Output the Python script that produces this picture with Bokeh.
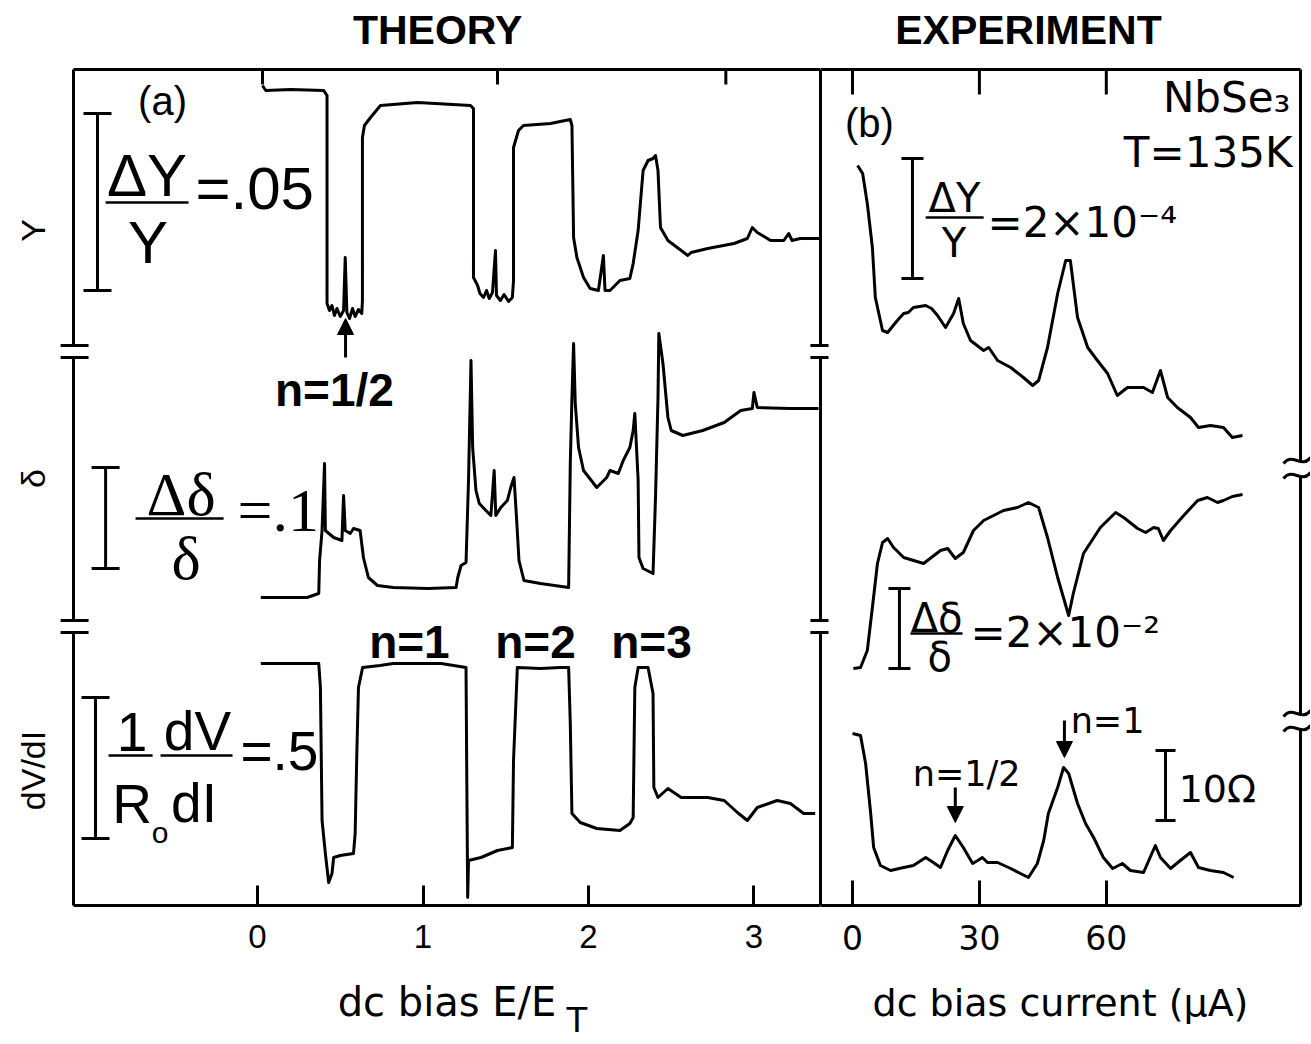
from bokeh.plotting import figure
from bokeh.layouts import row
from bokeh.models import (Range1d, FixedTicker, ColumnDataSource,
                          Whisker, TeeHead, Arrow, NormalHead)
from bokeh.core.properties import value
from bokeh.embed import file_html
from bokeh.resources import INLINE

# ---------------- data ----------------
# (a) THEORY, x = dc bias E/E_T, y = signal (arb. units, traces offset)
theory_Y_E = [0.03, 0.05, 0.20, 0.40, 0.42, 0.42, 0.435, 0.45, 0.465, 0.48, 0.50, 0.52, 0.53, 0.54, 0.556, 0.574,
              0.59, 0.61, 0.63, 0.634, 0.634, 0.646, 0.683, 0.743, 0.967, 1.287, 1.305, 1.305, 1.33, 1.344, 1.366,
              1.384, 1.40, 1.42, 1.438, 1.444, 1.468, 1.49, 1.517, 1.54, 1.547, 1.547, 1.577, 1.607, 1.77, 1.89,
              1.90, 1.91, 1.93, 1.97, 2.01, 2.06, 2.09, 2.10, 2.13, 2.19, 2.25, 2.27, 2.30, 2.33, 2.36, 2.39,
              2.405, 2.42, 2.435, 2.48, 2.60, 2.62, 2.72, 2.88, 2.96, 2.99, 3.02, 3.10, 3.18, 3.21, 3.23, 3.28, 3.40]
theory_Y_val = [820, 815, 816, 815, 810, 602, 595, 600, 590, 597, 589, 595, 648, 593, 587, 597,
                589, 596, 592, 605, 768, 780, 788, 800, 803, 800, 797, 628, 620, 612, 608,
                615, 607, 613, 655, 610, 605, 611, 604, 608, 625, 758, 775, 780, 782, 786,
                780, 668, 648, 628, 617, 615, 650, 615, 615, 625, 627, 642, 675, 735, 745, 747,
                750, 735, 678, 665, 650, 653, 657, 662, 667, 678, 673, 665, 665, 672, 665, 667, 667]

theory_D_E = [0.02, 0.30, 0.37, 0.375, 0.39, 0.405, 0.41, 0.46, 0.51, 0.52, 0.53, 0.56, 0.58, 0.62, 0.64, 0.67,
              0.725, 0.82, 1.03, 1.20, 1.21, 1.23, 1.26, 1.275, 1.29, 1.30, 1.32, 1.34, 1.38, 1.41, 1.42, 1.43,
              1.44, 1.47, 1.51, 1.53, 1.55, 1.565, 1.58, 1.61, 1.71, 1.88, 1.89, 1.90, 1.91, 1.92, 1.94, 1.97,
              2.05, 2.11, 2.13, 2.18, 2.21, 2.25, 2.27, 2.28, 2.30, 2.305, 2.33, 2.39, 2.405, 2.42, 2.425, 2.45,
              2.48, 2.50, 2.57, 2.69, 2.82, 2.92, 2.99, 3.00, 3.02, 3.22, 3.39]
theory_D_val = [308, 308, 312, 345, 375, 442, 375, 368, 365, 410, 375, 372, 377, 375, 348, 328,
                320, 318, 317, 318, 328, 340, 343, 425, 545, 458, 415, 402, 395, 390, 412, 435,
                390, 398, 405, 418, 428, 388, 345, 325, 322, 318, 442, 508, 562, 502, 458, 435,
                418, 428, 435, 432, 445, 458, 475, 492, 425, 348, 337, 332, 408, 508, 572, 542,
                488, 475, 470, 475, 483, 495, 497, 513, 498, 497, 497]

theory_R_E = [0.02, 0.37, 0.38, 0.39, 0.41, 0.43, 0.45, 0.46, 0.50, 0.58, 0.59, 0.60, 0.61, 0.635, 0.74, 0.82,
              1.11, 1.26, 1.265, 1.27, 1.275, 1.35, 1.45, 1.54, 1.547, 1.57, 1.71, 1.83, 1.88, 1.89, 1.90, 1.95,
              2.05, 2.19, 2.25, 2.27, 2.28, 2.30, 2.36, 2.39, 2.395, 2.42, 2.48, 2.56, 2.72, 2.82, 2.90, 2.96,
              3.02, 3.14, 3.22, 3.30, 3.37]
theory_R_val = [242, 242, 218, 85, 52, 23, 32, 48, 50, 52, 72, 152, 218, 238, 240, 242,
                242, 238, 118, 8, 45, 48, 55, 58, 145, 238, 237, 238, 238, 182, 92, 83,
                77, 75, 82, 88, 218, 238, 238, 212, 118, 108, 117, 108, 108, 105, 93, 85,
                98, 105, 102, 92, 92]

# (b) EXPERIMENT, x = dc bias current (uA)
exp_Y_I = [1.2, 2.4, 3.5, 4.7, 5.4, 7.1, 8.3, 10.6, 12.1, 13.2, 14.4, 17.3, 18.7, 20.1, 22.0, 23.9, 25.1, 26.2,
           27.9, 31.0, 32.2, 34.3, 37.4, 40.4, 42.6, 44.0, 46.1, 48.5, 50.4, 51.5, 53.2, 55.6, 57.9, 60.3, 62.6,
           65.0, 68.8, 70.9, 72.8, 74.5, 76.8, 79.9, 81.8, 84.6, 87.7, 89.8, 92.2]
exp_Y_val = [740, 732, 702, 658, 608, 575, 573, 585, 592, 593, 598, 600, 597, 590, 578, 592, 607, 582,
             565, 555, 558, 545, 538, 528, 520, 525, 558, 612, 645, 645, 588, 558, 545, 532, 510,
             518, 518, 513, 535, 508, 498, 488, 478, 480, 478, 468, 470]

exp_D_I = [0.2, 1.9, 3.5, 4.7, 5.9, 7.1, 8.3, 9.7, 12.1, 16.8, 20.8, 22.5, 24.3, 26.2, 28.6, 31.0, 35.7, 39.0,
           41.6, 44.0, 46.1, 48.5, 51.1, 52.2, 54.6, 58.6, 62.2, 64.1, 67.4, 69.3, 71.2, 72.3, 73.5, 75.2, 78.3,
           81.6, 83.9, 86.3, 87.7, 89.8, 92.2]
exp_D_val = [237, 238, 255, 298, 342, 363, 367, 358, 348, 342, 355, 357, 347, 353, 375, 385, 395, 398,
             403, 398, 368, 328, 290, 312, 352, 378, 393, 388, 377, 373, 378, 377, 365, 375, 390,
             405, 408, 403, 405, 409, 411]

exp_R_I = [0.0, 1.9, 3.1, 4.3, 5.0, 6.6, 9.0, 12.1, 14.4, 17.3, 19.1, 20.8, 22.5, 24.3, 26.2, 28.4, 29.6, 30.7,
           31.9, 34.3, 37.4, 39.7, 41.6, 43.7, 45.2, 46.3, 48.5, 49.9, 51.1, 53.2, 55.1, 57.0, 59.3, 61.5, 63.8,
           65.7, 68.8, 71.6, 72.8, 75.2, 77.5, 79.9, 81.8, 84.6, 87.7, 90.1]
exp_R_val = [172, 170, 142, 92, 58, 40, 35, 38, 40, 48, 43, 38, 55, 70, 58, 42, 45, 48,
             43, 43, 37, 32, 28, 42, 65, 92, 118, 138, 132, 102, 82, 68, 48, 37, 42,
             35, 33, 60, 48, 37, 45, 53, 38, 35, 33, 28]

theory_ticks = [0, 1, 2, 3]
theory_top_ticks = [0.03, 1.45, 2.83]
exp_ticks = [0, 30, 60]
trace_labels = ["dV/dI", "δ", "Y"]
trace_label_pos = [135, 427, 675]

# ---------------- layout constants ----------------
Y_TOP = 836
SANS = "Liberation Sans"
WIDE = "DejaVu Sans"
SERIF = "Liberation Serif"
H = 1044
MB_TOP = 69
MB_BOTTOM = H - MB_TOP - Y_TOP
TITLE_Y = Y_TOP + 40


def txt(p, x, y, s, size, font=SANS, style="normal", align="left", baseline="middle"):
    p.text(x=[x], y=[y], text=[s], text_font=value(font), text_font_size=f"{size}px",
           text_font_style=style, text_align=align, text_baseline=baseline,
           text_color="black", level="overlay")


def side(p, x, gaps, mark_x0, mark_x1):
    edges = [Y_TOP]
    for lo, hi in gaps:
        edges += [hi, lo]
    edges += [0]
    y0 = edges[0::2]
    y1 = edges[1::2]
    p.segment(x0=[x] * len(y0), y0=y0, x1=[x] * len(y0), y1=y1,
              line_width=3, color="black", level="overlay")
    if mark_x0 is not None:
        ys = [v for g in gaps for v in g]
        p.segment(x0=[mark_x0] * len(ys), y0=ys, x1=[mark_x1] * len(ys), y1=ys,
                  line_width=3, color="black", level="overlay")


def top_edge(p, x0, x1, ticks, tick_len):
    p.segment(x0=[x0], y0=[Y_TOP], x1=[x1], y1=[Y_TOP], line_width=3, color="black", level="overlay")
    p.segment(x0=ticks, y0=[Y_TOP] * len(ticks), x1=ticks, y1=[Y_TOP - tick_len] * len(ticks),
              line_width=3, color="black", level="overlay")


def bar(p, x, lo, hi, size):
    src = ColumnDataSource(dict(x=[x], lo=[lo], hi=[hi]))
    p.add_layout(Whisker(base="x", lower="lo", upper="hi", dimension="height", source=src,
                         line_width=3, line_color="black",
                         upper_head=TeeHead(size=size, line_width=3, line_color="black"),
                         lower_head=TeeHead(size=size, line_width=3, line_color="black")))


def hline(p, x0, x1, y, w=2.5):
    p.segment(x0=[x0], y0=[y], x1=[x1], y1=[y], line_width=w, color="black", level="overlay")


def arrow(p, x, y0, y1, size=16):
    p.add_layout(Arrow(end=NormalHead(size=size, fill_color="black", line_color="black", line_width=1),
                       x_start=x, y_start=y0, x_end=x, y_end=y1, line_width=3, line_color="black"))


def style_xaxis(ax, ticks, tick_in, font, size, label, label_size):
    ax.ticker = FixedTicker(ticks=ticks)
    ax.axis_line_width = 3
    ax.axis_line_color = "black"
    ax.major_tick_in = tick_in
    ax.major_tick_out = 0
    ax.major_tick_line_width = 3
    ax.major_tick_line_color = "black"
    ax.minor_tick_line_color = None
    ax.major_label_text_font = font
    ax.major_label_text_font_size = f"{size}px"
    ax.major_label_text_color = "black"
    ax.major_label_standoff = 19
    ax.axis_label = label
    ax.axis_label_text_font = WIDE
    ax.axis_label_text_font_size = f"{label_size}px"
    ax.axis_label_text_font_style = "normal"
    ax.axis_label_text_color = "black"
    ax.axis_label_standoff = 28


# ---------------- (a) THEORY ----------------
XL0, XL1 = -1.112, 3.402
p1 = figure(width=820, height=H, x_range=Range1d(XL0, XL1), y_range=Range1d(0, Y_TOP),
            output_backend="svg", toolbar_location=None,
            min_border_left=73, min_border_right=0, min_border_top=MB_TOP, min_border_bottom=MB_BOTTOM)
p1.outline_line_color = None
p1.grid.visible = False
style_xaxis(p1.xaxis[0], theory_ticks, 20, SANS, 33, "dc bias E/E", 40)

ya = p1.yaxis[0]
ya.ticker = FixedTicker(ticks=trace_label_pos)
ya.major_label_overrides = {k: v for k, v in zip(trace_label_pos, trace_labels)}
ya.axis_line_color = None
ya.major_tick_in = 0
ya.major_tick_out = 0
ya.minor_tick_line_color = None
ya.major_label_orientation = "vertical"
ya.major_label_text_font = SANS
ya.major_label_text_font_size = "34px"
ya.major_label_text_color = "black"
ya.major_label_standoff = 22

for xs, ys in [(theory_Y_E, theory_Y_val), (theory_D_E, theory_D_val), (theory_R_E, theory_R_val)]:
    p1.line(xs, ys, line_width=3, color="black", line_join="round")

top_edge(p1, XL0, XL1, theory_top_ticks, 15)
side(p1, XL0, [(548, 560), (273, 285)], -1.190, -1.021)
side(p1, XL1, [(548, 560), (273, 285)], 3.341, 3.450)

txt(p1, 1.088, TITLE_Y, "THEORY", 41, style="bold", align="center", baseline="alphabetic")
txt(p1, -0.574, 805, "(a)", 40, align="center")
# dY/Y scale
bar(p1, -0.967, 615, 792, 28)
txt(p1, -0.668, 730, "ΔY", 60, align="center")
hline(p1, -0.918, -0.417, 703)
txt(p1, -0.662, 663, "Y", 60, align="center")
txt(p1, -0.375, 717, "=.05", 60)
# d(delta) scale
bar(p1, -0.918, 337, 438, 28)
txt(p1, -0.462, 412, "Δδ", 62, font=SERIF, align="center")
hline(p1, -0.737, -0.205, 387)
txt(p1, -0.432, 348, "δ", 62, font=SERIF, align="center")
txt(p1, -0.121, 396, "=.1", 62, font=SERIF)
# dV/dI scale
bar(p1, -0.979, 67, 208, 28)
txt(p1, -0.758, 174, "1", 55, align="center")
hline(p1, -0.900, -0.634, 150)
txt(p1, -0.758, 102, "R", 55, align="center")
txt(p1, -0.589, 73, "o", 30, align="center")
txt(p1, -0.363, 175, "dV", 55, align="center")
hline(p1, -0.586, -0.151, 150)
txt(p1, -0.384, 103, "dI", 55, align="center")
txt(p1, -0.103, 155, "=.5", 55)
# resonance labels
txt(p1, 0.465, 516, "n=1/2", 46, style="bold", align="center")
arrow(p1, 0.532, 548, 587)
txt(p1, 0.918, 264, "n=1", 46, style="bold", align="center")
txt(p1, 1.680, 264, "n=2", 46, style="bold", align="center")
txt(p1, 2.381, 264, "n=3", 46, style="bold", align="center")
txt(p1, 1.93, -114, "T", 34, font=WIDE, align="center")

# ---------------- (b) EXPERIMENT ----------------
XR0, XR1 = -7.565, 105.91
p2 = figure(width=490, height=H, x_range=Range1d(XR0, XR1), y_range=Range1d(0, Y_TOP),
            output_backend="svg", toolbar_location=None, y_axis_location=None,
            min_border_left=0, min_border_right=10, min_border_top=MB_TOP, min_border_bottom=MB_BOTTOM)
p2.outline_line_color = None
p2.grid.visible = False
style_xaxis(p2.xaxis[0], exp_ticks, 25, WIDE, 33, "dc bias current (μA)", 38)

for xs, ys in [(exp_Y_I, exp_Y_val), (exp_D_I, exp_D_val), (exp_R_I, exp_R_val)]:
    p2.line(xs, ys, line_width=3, color="black", line_join="round")

top_edge(p2, XR0, XR1, exp_ticks, 25)
side(p2, XR0, [(548, 560), (273, 285)], -9.93, -5.67)
side(p2, XR1, [(430, 445), (177, 192)], None, None)
for ym in [445, 430, 192, 177]:
    p2.bezier(x0=[101.9], y0=[ym - 3], x1=[108.3], y1=[ym + 3], cx0=[104.0], cy0=[ym + 9],
              cx1=[106.1], cy1=[ym - 9], line_width=3, line_color="black", level="overlay")

txt(p2, 41.6, TITLE_Y, "EXPERIMENT", 41, style="bold", align="center", baseline="alphabetic")
txt(p2, 4.0, 783, "(b)", 40, align="center")
txt(p2, 103.5, 808, "NbSe₃", 42, font=WIDE, align="right")
txt(p2, 104.0, 753, "T=135K", 42, font=WIDE, align="right")
bar(p2, 14.18, 627, 747, 22)
txt(p2, 24.1, 708, "ΔY", 40, font=WIDE, align="center")
hline(p2, 17.3, 31.0, 688)
txt(p2, 24.0, 663, "Y", 40, font=WIDE, align="center")
txt(p2, 31.9, 683, "=2×10⁻⁴", 42, font=WIDE)
bar(p2, 11.1, 237, 317, 22)
txt(p2, 19.9, 288, "Δδ", 40, font=WIDE, align="center")
hline(p2, 13.7, 26.0, 272)
txt(p2, 20.6, 249, "δ", 40, font=WIDE, align="center")
txt(p2, 27.9, 273, "=2×10⁻²", 42, font=WIDE)
txt(p2, 27.0, 132, "n=1/2", 35, font=WIDE, align="center")
arrow(p2, 24.3, 118, 83)
txt(p2, 60.3, 185, "n=1", 35, font=WIDE, align="center")
arrow(p2, 50.1, 185, 148)
bar(p2, 74.0, 85, 155, 20)
txt(p2, 77.1, 117, "10Ω", 38, font=WIDE)

layout = row(p1, p2)
open("out.html", "w").write(file_html(layout, INLINE))
